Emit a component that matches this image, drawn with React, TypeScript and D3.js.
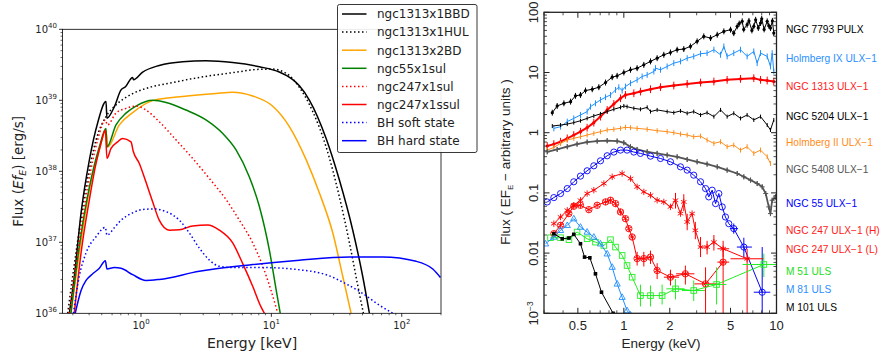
import React from "react";
import * as d3 from "d3";

type P = [number, number];
// [E, Flo, Fhi, Elo, Ehi]
type Err = [number, number, number, number?, number?];

// ================= LEFT PANEL DATA (Energy keV, Flux erg/s) =================
const leftXTicks = [1, 10, 100];
const leftYTicks = [1e36, 1e37, 1e38, 1e39, 1e40];

const ngc1313x1BBD: P[] = [
  [0.282, 1e36], [0.308, 3.3e36], [0.347, 2.6e37], [0.402, 1.45e38], [0.465, 4.8e38],
  [0.539, 9.6e38], [0.548, 5.6e38], [0.624, 8.1e38], [0.703, 1.4e39], [0.76, 1.55e39],
  [0.863, 2.1e39], [0.875, 1.95e39], [1.03, 2.5e39], [1.38, 3.1e39], [2.09, 3.5e39],
  [3.15, 3.6e39], [5.05, 3.4e39], [8.09, 2.97e39], [11.5, 2.5e39], [14.6, 1.95e39],
  [16.4, 1.6e39], [19.6, 1.0e39], [26.3, 2.9e38], [33.2, 7.6e37], [42.1, 1.48e37],
  [50.2, 3.3e36], [56.5, 1e36],
];
const ngc1313x1HUL: P[] = [
  [0.274, 1e36], [0.317, 7.1e36], [0.379, 6.0e37], [0.452, 2.76e38], [0.539, 5.9e38],
  [0.643, 8.6e38], [0.863, 1.24e39], [1.16, 1.52e39], [1.75, 1.78e39], [2.8, 2.1e39],
  [5.05, 2.45e39], [8.09, 2.73e39], [10.2, 2.75e39], [13.0, 2.4e39], [16.4, 1.52e39],
  [20.8, 6.9e38], [26.3, 2.2e38], [33.2, 4.4e37], [39.7, 9.8e36], [47.3, 1.9e36],
  [50.8, 1e36],
];
const ngc1313x2BD: P[] = [
  [0.29, 1e36], [0.336, 7.1e36], [0.402, 5.5e37], [0.479, 2.0e38], [0.539, 3.8e38],
  [0.555, 2.2e38], [0.682, 4.5e38], [0.863, 6.7e38], [1.23, 9.9e38], [2.09, 1.13e39],
  [3.76, 1.25e39], [5.05, 1.3e39], [7.19, 1.15e39], [10.2, 8.3e38], [13.7, 4.3e38],
  [18.5, 1.45e38], [23.4, 4.9e37], [29.6, 1.35e37], [35.3, 3.3e36], [40.9, 1e36],
];
const ngc55x1sul: P[] = [
  [0.29, 1e36], [0.336, 8.7e36], [0.402, 6.0e37], [0.479, 2.2e38], [0.539, 4.0e38],
  [0.548, 2.2e38], [0.643, 4.5e38], [0.767, 6.6e38], [0.915, 8.3e38], [1.23, 1.0e39],
  [1.56, 9.3e38], [2.21, 7.3e38], [3.15, 5.3e38], [4.24, 3.4e38], [5.36, 2.0e38],
  [6.78, 8.3e37], [8.09, 3.2e37], [9.66, 7.7e36], [10.9, 2.1e36], [11.7, 1e36],
];
const ngc247x1sul: P[] = [
  [0.282, 1e36], [0.327, 7.1e36], [0.39, 6.0e37], [0.465, 2.76e38], [0.533, 5.3e38],
  [0.552, 4.5e38], [0.643, 6.6e38], [0.767, 7.7e38], [0.915, 8.3e38], [1.09, 7.3e38],
  [1.38, 5.0e38], [1.86, 2.76e38], [2.49, 1.52e38], [3.35, 7.9e37], [4.49, 4.0e37],
  [5.68, 2.05e37], [7.19, 9.8e36], [8.59, 4.6e36], [9.94, 2.1e36], [11.2, 1e36],
];
const ngc247x1ssul: P[] = [
  [0.308, 1e36], [0.347, 7.1e36], [0.402, 4.0e37], [0.452, 1.29e38], [0.493, 2.46e38],
  [0.533, 3.8e38], [0.548, 1.52e38], [0.589, 2.1e38], [0.662, 2.6e38], [0.723, 2.9e38],
  [0.838, 2.6e38], [0.873, 1.9e38], [0.971, 1.29e38], [1.09, 7.1e37], [1.23, 3.7e37],
  [1.38, 2.05e37], [1.65, 1.48e37], [1.97, 1.5e37], [2.49, 1.7e37], [3.25, 1.75e37],
  [3.99, 1.48e37], [5.05, 9.8e36], [6.03, 5.0e36], [7.19, 2.4e36], [8.33, 1.23e36],
  [8.84, 1e36],
];
const bhSoft: P[] = [
  [0.303, 1e36], [0.336, 3.3e36], [0.379, 7.1e36], [0.452, 1.2e37], [0.533, 1.62e37],
  [0.548, 1.26e37], [0.624, 1.6e37], [0.703, 2.05e37], [0.863, 2.6e37], [1.03, 2.9e37],
  [1.27, 2.95e37], [1.56, 2.7e37], [1.97, 2.05e37], [2.35, 1.35e37], [2.8, 8.3e36],
  [3.35, 5.6e36], [3.99, 4.6e36], [5.05, 4.4e36], [9.1, 4.4e36], [16.4, 4.1e36],
  [26.3, 3.5e36], [37.4, 2.6e36], [50.2, 1.9e36], [67.4, 1.3e36], [85.3, 1e36],
];
const bhHard: P[] = [
  [0.313, 1e36], [0.347, 2.1e36], [0.379, 2.9e36], [0.426, 3.6e36], [0.479, 4.3e36],
  [0.533, 5.5e36], [0.548, 4.2e36], [0.624, 4.4e36], [0.703, 4.3e36], [0.863, 3.5e36],
  [1.09, 2.9e36], [1.38, 3.0e36], [2.8, 3.9e36], [6.78, 4.8e36], [16.4, 5.6e36],
  [39.7, 6.2e36], [71.5, 6.2e36], [129, 5.4e36], [173, 4.2e36], [198, 3.2e36],
];

const leftSeries = [
  { name: "ngc1313x1BBD", data: ngc1313x1BBD, color: "#000000", dotted: false },
  { name: "ngc1313x1HUL", data: ngc1313x1HUL, color: "#000000", dotted: true },
  { name: "ngc1313x2BD", data: ngc1313x2BD, color: "#ffa500", dotted: false },
  { name: "ngc55x1sul", data: ngc55x1sul, color: "#008000", dotted: false },
  { name: "ngc247x1sul", data: ngc247x1sul, color: "#ff0000", dotted: true },
  { name: "ngc247x1ssul", data: ngc247x1ssul, color: "#ff0000", dotted: false },
  { name: "BH soft state", data: bhSoft, color: "#0000ff", dotted: true },
  { name: "BH hard state", data: bhHard, color: "#0000ff", dotted: false },
];

// ================= RIGHT PANEL DATA (Energy keV, EF_E arbitrary) =================
const rightXTicks = [0.5, 1, 2, 5, 10];
const rightXTickLabels = ["0.5", "1", "2", "5", "10"];
const rightYTicks = [1e-3, 0.01, 0.1, 1, 10, 100];

const ngc7793: P[] = [
  [0.34, 2.15], [0.366, 2.78], [0.405, 3.08], [0.448, 3.28], [0.482, 4.09], [0.52, 4.24],
  [0.561, 5.01], [0.621, 5.27], [0.686, 5.7], [0.759, 6.81], [0.839, 8.36], [0.904, 8.8],
  [1.0, 10], [1.106, 11.1], [1.222, 11.8], [1.352, 13.4], [1.495, 15.3], [1.653, 17.3],
  [1.828, 19.7], [2.02, 21.5], [2.235, 23.9], [2.47, 24.5], [2.73, 27.1], [3.02, 32.9],
  [3.34, 39.8], [3.7, 37.3], [4.09, 42.4], [4.52, 48.2], [5.0, 51.4], [5.25, 45],
  [5.53, 58.4], [5.7, 65], [5.96, 70.8], [6.1, 52], [6.42, 62.2], [6.6, 72], [6.9, 50],
  [7.1, 58.4], [7.3, 75], [7.6, 55], [7.86, 66.4], [8.0, 78], [8.3, 52], [8.69, 70.8],
  [8.9, 60], [9.13, 54.8], [9.4, 72], [9.6, 45.2],
];
const holmIX: P[] = [
  [0.348, 1.18], [0.385, 1.26], [0.426, 1.53], [0.47, 1.73], [0.52, 1.97], [0.575, 2.24],
  [0.605, 2.71], [0.652, 3.08], [0.703, 3.5], [0.759, 3.88], [0.818, 4.24], [0.882, 5.14],
  [0.927, 5.7], [0.975, 5.01], [1.025, 5.84], [1.106, 6.64], [1.222, 7.55], [1.318, 8.58],
  [1.422, 9.14], [1.572, 10.4], [1.612, 11.8], [1.738, 11.1], [1.922, 12.6], [2.125, 14.3],
  [2.35, 15.3], [2.6, 17.3], [2.87, 18.5], [3.18, 20.5], [3.51, 21.0], [3.89, 23.9],
  [4.3, 19.7], [4.52, 27.1], [4.75, 18.5], [5.25, 21.0], [5.81, 23.9], [6.42, 18.5],
  [7.1, 22.4], [7.47, 14.3], [7.86, 21.0], [8.69, 18.5], [9.13, 12.6], [9.37, 21.0],
  [9.6, 10.4],
];
const ngc1313: P[] = [
  [0.315, 0.6], [0.348, 0.647], [0.385, 0.708], [0.426, 0.805], [0.47, 0.914], [0.52, 1.04],
  [0.575, 1.21], [0.636, 1.47], [0.703, 1.85], [0.778, 2.39], [0.86, 3.0], [0.951, 3.73],
  [1.025, 4.24], [1.163, 4.52], [1.285, 4.82], [1.495, 5.27], [1.738, 5.7], [2.125, 6.07],
  [2.6, 6.47], [3.18, 6.81], [3.89, 7.08], [4.75, 7.55], [5.81, 7.83], [7.1, 8.05],
  [7.86, 7.55], [8.69, 7.36], [9.6, 7.08],
];
const ngc5204: P[] = [
  [0.34, 1.29], [0.385, 1.34], [0.426, 1.39], [0.47, 1.47], [0.52, 1.58], [0.575, 1.73],
  [0.636, 1.9], [0.703, 2.05], [0.778, 2.24], [0.86, 2.45], [0.951, 2.64], [1.0, 2.78],
  [1.05, 2.71], [1.163, 2.54], [1.285, 2.45], [1.422, 2.64], [1.495, 2.24], [1.653, 2.39],
  [1.922, 2.24], [2.125, 2.15], [2.35, 2.3], [2.6, 2.1], [2.87, 2.24], [3.18, 1.97],
  [3.51, 2.15], [3.89, 1.85], [4.3, 2.39], [4.75, 1.85], [5.25, 2.1], [5.81, 1.73],
  [6.42, 1.97], [7.1, 1.63], [7.86, 1.85], [8.69, 1.34], [9.13, 1.11], [9.6, 1.63],
];
const holmII: P[] = [
  [0.315, 0.514], [0.348, 0.57], [0.385, 0.664], [0.426, 0.755], [0.47, 0.805], [0.52, 0.857],
  [0.575, 0.914], [0.636, 0.975], [0.703, 1.04], [0.778, 1.11], [0.86, 1.14], [0.951, 1.18],
  [1.025, 1.23], [1.106, 1.21], [1.222, 1.18], [1.422, 1.14], [1.653, 1.08], [1.922, 1.04],
  [2.125, 1.0], [2.35, 0.95], [2.6, 0.914], [2.87, 0.857], [3.18, 0.879], [3.51, 0.755],
  [3.89, 0.664], [4.3, 0.708], [4.75, 0.585], [5.25, 0.623], [5.81, 0.514], [6.42, 0.585],
  [7.1, 0.453], [7.86, 0.514], [8.69, 0.398], [9.13, 0.308],
];
const ngc5408: P[] = [
  [0.315, 0.482], [0.366, 0.527], [0.426, 0.585], [0.494, 0.647], [0.575, 0.699], [0.669, 0.726],
  [0.778, 0.736], [0.904, 0.726], [1.0, 0.681], [1.106, 0.585], [1.222, 0.527], [1.422, 0.482],
  [1.653, 0.453], [1.922, 0.425], [2.235, 0.398], [2.6, 0.359], [3.02, 0.329], [3.51, 0.301],
  [4.09, 0.271], [4.75, 0.239], [5.53, 0.21], [6.11, 0.185], [6.76, 0.163], [7.47, 0.143],
  [8.06, 0.126], [8.5, 0.0975], [8.9, 0.0585], [9.13, 0.0453], [9.37, 0.0755], [9.85, 0.0858],
];
const ngc55: P[] = [
  [0.315, 0.0707], [0.348, 0.0836], [0.385, 0.0975], [0.426, 0.118], [0.47, 0.153], [0.52, 0.19],
  [0.575, 0.233], [0.636, 0.282], [0.703, 0.341], [0.778, 0.414], [0.86, 0.477], [0.951, 0.514],
  [1.05, 0.514], [1.163, 0.477], [1.285, 0.453], [1.495, 0.408], [1.738, 0.373], [2.021, 0.329],
  [2.35, 0.271], [2.6, 0.239], [2.87, 0.197], [3.18, 0.153], [3.43, 0.118], [3.6, 0.0858],
  [3.79, 0.111], [3.99, 0.0664], [4.19, 0.0975], [4.41, 0.0585], [4.63, 0.0398], [4.87, 0.0308],
  [5.25, 0.0255], [6.11, 0.0126], [8.06, 0.00224],
];
const ngc55Err: Err[] = [
  [5.25, 0.021, 0.031, 4.95, 5.6], [6.11, 0.0085, 0.018, 5.5, 6.9], [8.06, 0.0009, 0.0126, 7.1, 9.1],
];
const ngc247H: P[] = [
  [0.348, 0.0308], [0.385, 0.0398], [0.426, 0.0514], [0.47, 0.0623], [0.52, 0.0755], [0.575, 0.0975],
  [0.636, 0.111], [0.74, 0.143], [0.839, 0.185], [0.975, 0.21], [1.106, 0.173], [1.222, 0.126],
  [1.352, 0.104], [1.495, 0.0914], [1.653, 0.0755], [1.828, 0.0708], [2.021, 0.0585], [2.18, 0.0755],
  [2.35, 0.0453], [2.47, 0.0708], [2.6, 0.0329], [2.8, 0.0453], [2.94, 0.0239], [3.18, 0.0126],
  [3.51, 0.0126], [3.89, 0.0152], [4.47, 0.0118], [6.42, 0.00805],
];
const ngc247HErr: Err[] = [
  [2.18, 0.055, 0.1], [2.47, 0.05, 0.095], [2.6, 0.024, 0.045], [2.94, 0.017, 0.033],
  [3.18, 0.0086, 0.0185], [3.51, 0.0095, 0.016], [3.89, 0.011, 0.02],
  [4.47, 0.0085, 0.016, 4.1, 4.9], [6.42, 0.0009, 0.0118, 5.0, 8.26],
];
const ngc247L: P[] = [
  [0.348, 0.021], [0.385, 0.0289], [0.436, 0.0453], [0.47, 0.06], [0.52, 0.0623], [0.59, 0.0527],
  [0.669, 0.0623], [0.759, 0.0708], [0.818, 0.0755], [0.882, 0.0664], [0.951, 0.0482], [1.025, 0.0373],
  [1.078, 0.0255], [1.134, 0.0185], [1.222, 0.0081], [1.352, 0.0081], [1.495, 0.00858], [1.653, 0.00514],
  [2.021, 0.00398], [2.53, 0.00453], [3.43, 0.00308], [4.47, 0.00708],
];
const ngc247LErr: Err[] = [
  [1.222, 0.0062, 0.0105], [1.352, 0.006, 0.0105], [1.495, 0.0066, 0.011], [1.653, 0.0037, 0.0068],
  [2.021, 0.0029, 0.0053, 1.83, 2.3], [2.53, 0.003, 0.0062, 2.2, 2.9],
  [3.43, 0.0009, 0.0058, 2.9, 4.1], [4.47, 0.0009, 0.0126, 4.1, 4.9],
];
const m51: P[] = [
  [0.331, 0.018], [0.385, 0.018], [0.437, 0.0167], [0.494, 0.0224], [0.575, 0.0173], [0.652, 0.0152],
  [0.74, 0.0134], [0.818, 0.0167], [0.882, 0.0126], [0.975, 0.00914], [1.05, 0.00622], [1.134, 0.00398],
  [1.285, 0.00197], [1.495, 0.00197], [1.782, 0.00197], [2.18, 0.00255], [2.87, 0.00239], [4.05, 0.00301],
  [8.26, 0.00647],
];
const m51Err: Err[] = [
  [1.285, 0.0013, 0.003], [1.495, 0.0013, 0.0029], [1.782, 0.0014, 0.003],
  [2.18, 0.0017, 0.0037, 1.9, 2.5], [2.87, 0.0016, 0.0035, 2.4, 3.4],
  [4.05, 0.0014, 0.0058, 3.4, 4.7], [8.26, 0.004, 0.0098, 6.0, 10],
];
const m81: P[] = [
  [0.307, 0.0143], [0.348, 0.0185], [0.385, 0.0239], [0.426, 0.0289], [0.47, 0.0373], [0.52, 0.0271],
  [0.575, 0.0224], [0.636, 0.0185], [0.703, 0.0143], [0.778, 0.00975], [0.839, 0.00585], [0.904, 0.00308],
  [0.975, 0.00185], [1.05, 0.00111], [1.106, 0.00094],
];
const m101: P[] = [
  [0.348, 0.021], [0.395, 0.0173], [0.437, 0.0178], [0.47, 0.0205], [0.52, 0.0143], [0.553, 0.00858],
  [0.599, 0.00835], [0.652, 0.00453], [0.714, 0.00224], [0.851, 0.001], [0.95, 0.0006],
];

const rightSeries = [
  { label: "NGC 7793 PULX", data: ngc7793, color: "#000000", labelColor: "#000000", marker: "dot", rel: 0.12, err: [] as Err[], lw: 1 },
  { label: "Holmberg IX ULX\u22121", data: holmIX, color: "#1e8fff", labelColor: "#2b8fff", marker: "none", rel: 0.12, err: [] as Err[], lw: 1 },
  { label: "NGC 1313 ULX\u22121", data: ngc1313, color: "#ff0000", labelColor: "#ff1a1a", marker: "dot", rel: 0.16, err: [] as Err[], lw: 2 },
  { label: "NGC 5204 ULX\u22121", data: ngc5204, color: "#000000", labelColor: "#000000", marker: "none", rel: 0.08, err: [] as Err[], lw: 1 },
  { label: "Holmberg II ULX\u22121", data: holmII, color: "#ff8c1a", labelColor: "#ff8c1a", marker: "none", rel: 0.1, err: [] as Err[], lw: 1 },
  { label: "NGC 5408 ULX\u22121", data: ngc5408, color: "#555555", labelColor: "#555555", marker: "plus", rel: 0.1, err: [] as Err[], lw: 1.8 },
  { label: "NGC 55 ULX\u22121", data: ngc55, color: "#0000ff", labelColor: "#0000ff", marker: "circle", rel: 0, err: ngc55Err, lw: 1 },
  { label: "NGC 247 ULX\u22121 (H)", data: ngc247H, color: "#ff0000", labelColor: "#ff1a1a", marker: "star", rel: 0, err: ngc247HErr, lw: 1 },
  { label: "NGC 247 ULX\u22121 (L)", data: ngc247L, color: "#ff0000", labelColor: "#ff1a1a", marker: "cstar", rel: 0, err: ngc247LErr, lw: 1 },
  { label: "M  51 ULS", data: m51, color: "#22ee22", labelColor: "#22dd22", marker: "square", rel: 0, err: m51Err, lw: 1 },
  { label: "M  81 ULS", data: m81, color: "#1e8fff", labelColor: "#2b8fff", marker: "tri", rel: 0, err: [] as Err[], lw: 1 },
  { label: "M 101 ULS", data: m101, color: "#000000", labelColor: "#000000", marker: "fsq", rel: 0, err: [] as Err[], lw: 1 },
];
const rightLabelY = [29, 58, 85.5, 116, 141.5, 168.5, 202.5, 230, 248.5, 271, 289, 307];

// ================= LAYOUT =================
const L = { x0: 62.5, x1: 441, y0: 29.3, y1: 313.3 };
const R = { x0: 544, x1: 776.5, y0: 12.3, y1: 313.3 };

function minorTicks(lo: number, hi: number, majors: number[]) {
  const out: number[] = [];
  for (let e = Math.floor(Math.log10(lo)) - 1; e <= Math.ceil(Math.log10(hi)); e++) {
    for (let m = 1; m < 10; m++) {
      const v = m * Math.pow(10, e);
      if (v >= lo * 0.999 && v <= hi * 1.001 && !majors.some((t) => Math.abs(t - v) / v < 1e-6)) out.push(v);
    }
  }
  return out;
}

function Marker({ type, x, y, color }: { type: string; x: number; y: number; color: string }) {
  const s = 3.2;
  switch (type) {
    case "dot":
      return <circle cx={x} cy={y} r={1.6} fill={color} />;
    case "fsq":
      return <rect x={x - 1.8} y={y - 1.8} width={3.6} height={3.6} fill={color} />;
    case "circle":
      return <circle cx={x} cy={y} r={3.1} fill="none" stroke={color} strokeWidth={0.9} />;
    case "plus":
      return (
        <g stroke={color} strokeWidth={1}>
          <line x1={x - 2.5} x2={x + 2.5} y1={y} y2={y} />
          <line x1={x} x2={x} y1={y - 2.5} y2={y + 2.5} />
        </g>
      );
    case "star":
    case "cstar": {
      const a = s * 0.87;
      const b = s * 0.5;
      return (
        <g stroke={color} strokeWidth={0.9} fill="none">
          <line x1={x} x2={x} y1={y - s} y2={y + s} />
          <line x1={x - a} x2={x + a} y1={y - b} y2={y + b} />
          <line x1={x - a} x2={x + a} y1={y + b} y2={y - b} />
          {type === "cstar" && <circle cx={x} cy={y} r={s} />}
        </g>
      );
    }
    case "square":
      return <rect x={x - 2.8} y={y - 2.8} width={5.6} height={5.6} fill="none" stroke={color} strokeWidth={0.9} />;
    case "tri":
      return (
        <path
          d={`M${x},${y - 3.4}L${x + 3.1},${y + 2.2}L${x - 3.1},${y + 2.2}Z`}
          fill="none"
          stroke={color}
          strokeWidth={0.9}
        />
      );
    default:
      return null;
  }
}

export default function App() {
  // ---------- left scales ----------
  const xL = d3.scaleLog().domain([0.25, 200]).range([L.x0, L.x1]);
  const yL = d3.scaleLog().domain([1e36, 1e40]).range([L.y1, L.y0]);
  const lineL = d3
    .line<P>()
    .x((d) => xL(d[0]))
    .y((d) => yL(d[1]))
    .curve(d3.curveMonotoneX);

  // ---------- right scales ----------
  const xR = d3.scaleLog().domain([0.3, 10]).range([R.x0, R.x1]);
  const yR = d3.scaleLog().domain([1e-3, 100]).range([R.y1, R.y0]);
  const lineR = d3
    .line<P>()
    .x((d) => xR(d[0]))
    .y((d) => yR(d[1]));

  const fontL = "DejaVu Sans, sans-serif";
  const fontR = "Liberation Sans, Arial, sans-serif";

  const lxMinor = minorTicks(0.25, 200, leftXTicks);
  const lyMinor = minorTicks(1e36, 1e40, leftYTicks);
  const rxMinor = minorTicks(0.3, 10, rightXTicks);
  const ryMinor = minorTicks(1e-3, 100, rightYTicks);

  const legendX = 337.5;
  const legendY = 4.5;
  const rowH = 18.1;

  return (
    <svg
      width={882}
      height={356}
      viewBox="0 0 882 356"
      style={{ position: "absolute", left: 0, top: 0, background: "#fff" }}
    >
      <defs>
        <clipPath id="clipL">
          <rect x={L.x0} y={L.y0} width={L.x1 - L.x0} height={L.y1 - L.y0} />
        </clipPath>
        <clipPath id="clipR">
          <rect x={R.x0} y={R.y0} width={R.x1 - R.x0} height={R.y1 - R.y0} />
        </clipPath>
      </defs>
      <rect x={0} y={0} width={882} height={356} fill="#fff" />

      {/* ================= LEFT PANEL ================= */}
      <g clipPath="url(#clipL)">
        {leftSeries.map((s) => (
          <path
            key={s.name}
            d={lineL(s.data) || ""}
            fill="none"
            stroke={s.color}
            strokeWidth={1.5}
            strokeDasharray={s.dotted ? "1.5,2.5" : undefined}
          />
        ))}
      </g>
      <rect x={L.x0} y={L.y0} width={L.x1 - L.x0} height={L.y1 - L.y0} fill="none" stroke="#000" strokeWidth={0.8} />
      {/* left x ticks */}
      {leftXTicks.map((t, i) => (
        <g key={"lxt" + t}>
          <line x1={xL(t)} x2={xL(t)} y1={L.y1} y2={L.y1 + 3.5} stroke="#000" strokeWidth={0.8} />
          <text x={xL(t)} y={L.y1 + 15.5} textAnchor="middle" fontFamily={fontL} fontSize={10} fill="#222">
            10<tspan dy={-4.5} fontSize={7}>{i}</tspan>
          </text>
        </g>
      ))}
      {lxMinor.map((t) => (
        <line key={"lxm" + t} x1={xL(t)} x2={xL(t)} y1={L.y1} y2={L.y1 + 2} stroke="#000" strokeWidth={0.6} />
      ))}
      {leftYTicks.map((t) => (
        <g key={"lyt" + t}>
          <line x1={L.x0} x2={L.x0 - 3.5} y1={yL(t)} y2={yL(t)} stroke="#000" strokeWidth={0.8} />
          <text x={L.x0 - 5.5} y={yL(t) + 3.5} textAnchor="end" fontFamily={fontL} fontSize={10} fill="#222">
            10<tspan dy={-4.5} fontSize={7}>{Math.round(Math.log10(t))}</tspan>
          </text>
        </g>
      ))}
      {lyMinor.map((t) => (
        <line key={"lym" + t} x1={L.x0} x2={L.x0 - 2} y1={yL(t)} y2={yL(t)} stroke="#000" strokeWidth={0.6} />
      ))}
      <text x={252} y={348} textAnchor="middle" fontFamily={fontL} fontSize={14} fill="#222">
        Energy [keV]
      </text>
      <text
        transform={`translate(23,${(L.y0 + L.y1) / 2}) rotate(-90)`}
        textAnchor="middle"
        fontFamily={fontL}
        fontSize={13.5}
        fill="#222"
      >
        Flux (<tspan fontStyle="italic">Ef</tspan>
        <tspan fontStyle="italic" fontSize={9.5} dy={3}>E</tspan>
        <tspan dy={-3}>) [erg/s]</tspan>
      </text>

      {/* legend */}
      <rect x={legendX} y={legendY} width={139.5} height={148} rx={2} fill="#fff" fillOpacity={0.9} stroke="#222" strokeWidth={0.9} />
      {leftSeries.map((s, i) => {
        const yy = 14 + i * rowH;
        return (
          <g key={"lg" + s.name}>
            <line
              x1={legendX + 4.5}
              x2={legendX + 29}
              y1={yy}
              y2={yy}
              stroke={s.color}
              strokeWidth={1.5}
              strokeDasharray={s.dotted ? "1.5,2.5" : undefined}
            />
            <text x={legendX + 39.5} y={yy + 4.3} fontFamily={fontL} fontSize={12} fill="#222">
              {s.name}
            </text>
          </g>
        );
      })}

      {/* ================= RIGHT PANEL ================= */}
      <g clipPath="url(#clipR)">
        {rightSeries.map((s) => (
          <g key={"rs" + s.label}>
            {s.rel > 0 &&
              s.data.map((d, j) => (
                <line
                  key={"re" + j}
                  x1={xR(d[0])}
                  x2={xR(d[0])}
                  y1={yR(d[1] * (1 + s.rel))}
                  y2={yR(d[1] / (1 + s.rel))}
                  stroke={s.color}
                  strokeWidth={1}
                />
              ))}
            {s.err.map((e, j) => (
              <g key={"er" + j} stroke={s.color} strokeWidth={1}>
                <line x1={xR(e[0])} x2={xR(e[0])} y1={yR(e[1])} y2={yR(e[2])} />
                {e[3] !== undefined && e[4] !== undefined && (
                  <line
                    x1={xR(e[3])}
                    x2={xR(e[4])}
                    y1={yR(s.data.find((d) => d[0] === e[0])?.[1] ?? e[1])}
                    y2={yR(s.data.find((d) => d[0] === e[0])?.[1] ?? e[1])}
                  />
                )}
              </g>
            ))}
            <path d={lineR(s.data) || ""} fill="none" stroke={s.color} strokeWidth={s.lw} strokeLinejoin="round" />
            {s.marker !== "none" &&
              s.data.map((d, j) => <Marker key={"mk" + j} type={s.marker} x={xR(d[0])} y={yR(d[1])} color={s.color} />)}
          </g>
        ))}
      </g>
      <rect x={R.x0} y={R.y0} width={R.x1 - R.x0} height={R.y1 - R.y0} fill="none" stroke="#222" strokeWidth={1.3} />
      {/* right x ticks */}
      {rightXTicks.map((t, i) => (
        <g key={"rxt" + t}>
          <line x1={xR(t)} x2={xR(t)} y1={R.y1} y2={R.y1 - 5.5} stroke="#222" strokeWidth={1} />
          <line x1={xR(t)} x2={xR(t)} y1={R.y0} y2={R.y0 + 5.5} stroke="#222" strokeWidth={1} />
          <text x={xR(t)} y={R.y1 + 17} textAnchor="middle" fontFamily={fontR} fontSize={13} fill="#222">
            {rightXTickLabels[i]}
          </text>
        </g>
      ))}
      {rxMinor.map((t) => (
        <g key={"rxm" + t}>
          <line x1={xR(t)} x2={xR(t)} y1={R.y1} y2={R.y1 - 3} stroke="#222" strokeWidth={0.8} />
          <line x1={xR(t)} x2={xR(t)} y1={R.y0} y2={R.y0 + 3} stroke="#222" strokeWidth={0.8} />
        </g>
      ))}
      {rightYTicks.map((t) => {
        const ex = Math.round(Math.log10(t));
        return (
          <g key={"ryt" + t}>
            <line x1={R.x0} x2={R.x0 + 5.5} y1={yR(t)} y2={yR(t)} stroke="#222" strokeWidth={1} />
            <line x1={R.x1} x2={R.x1 - 5.5} y1={yR(t)} y2={yR(t)} stroke="#222" strokeWidth={1} />
            <text
              transform={`translate(${R.x0 - 6.5},${yR(t)}) rotate(-90)`}
              textAnchor="middle"
              fontFamily={fontR}
              fontSize={13}
              fill="#222"
            >
              {ex === -3 ? (
                <>
                  10<tspan dy={-5} fontSize={8.5}>{"\u22123"}</tspan>
                </>
              ) : ex >= 0 ? (
                String(Math.pow(10, ex))
              ) : (
                t.toFixed(-ex)
              )}
            </text>
          </g>
        );
      })}
      {ryMinor.map((t) => (
        <g key={"rym" + t}>
          <line x1={R.x0} x2={R.x0 + 3} y1={yR(t)} y2={yR(t)} stroke="#222" strokeWidth={0.8} />
          <line x1={R.x1} x2={R.x1 - 3} y1={yR(t)} y2={yR(t)} stroke="#222" strokeWidth={0.8} />
        </g>
      ))}
      <text x={661} y={348} textAnchor="middle" fontFamily={fontR} fontSize={13.5} fill="#222">
        Energy (keV)
      </text>
      <text
        transform={`translate(510,162) rotate(-90)`}
        textAnchor="middle"
        fontFamily={fontR}
        fontSize={13.5}
        fill="#222"
      >
        Flux ( EF<tspan fontSize={8} dy={3}>E</tspan>
        <tspan dy={-3}>{" \u2212 arbitrary units )"}</tspan>
      </text>
      {rightSeries.map((s, i) => (
        <text key={"rl" + i} x={786} y={rightLabelY[i] + 4} fontFamily={fontR} fontSize={10.2} fill={s.labelColor}>
          {s.label}
        </text>
      ))}
    </svg>
  );
}
